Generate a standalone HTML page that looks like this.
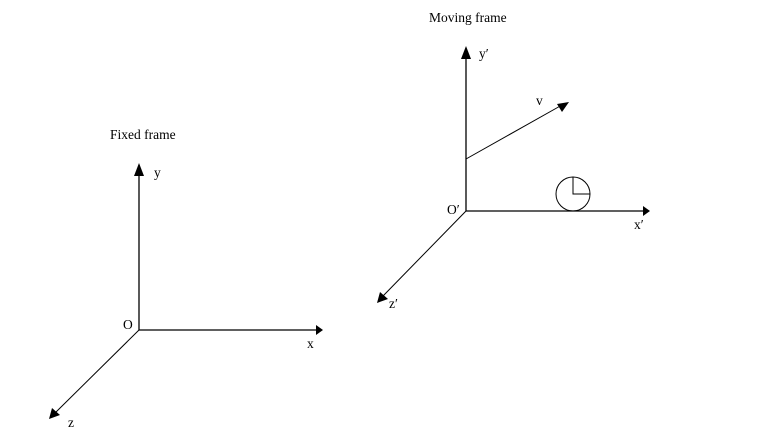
<!DOCTYPE html>
<html><head><style>
html,body{margin:0;padding:0;background:#fff;}
svg{display:block;}
text{font-family:"Liberation Serif",serif;font-size:13.5px;fill:#000;}
</style></head><body>
<svg width="775" height="434" viewBox="0 0 775 434">
<g stroke="#000" stroke-width="1.3" fill="none">
<line x1="139" y1="330" x2="139" y2="172"/>
<line x1="139" y1="330" x2="318" y2="330"/>
<line x1="139" y1="330" x2="55" y2="413" stroke-width="1"/>
<line x1="466" y1="211" x2="466" y2="55"/>
<line x1="466" y1="211" x2="644" y2="211"/>
<line x1="466" y1="211" x2="383" y2="296" stroke-width="1"/>
<line x1="466" y1="159" x2="562" y2="105" stroke-width="1"/>
<circle cx="573" cy="194" r="17" stroke-width="1"/>
<polyline points="573,177 573,194 590,194" stroke-width="1"/>
</g>
<g fill="#000">
<polygon points="139,163 134,176 144,176"/>
<polygon points="323,330 316,325 316,335"/>
<polygon points="49,419 52,408 60,415"/>
<polygon points="466,46 461,59 471,59"/>
<polygon points="650,211 643,206 643,216"/>
<polygon points="377,303 380,292 388,299"/>
<polygon points="569,102 557,104 562,112"/>
</g>
<text x="110" y="139">Fixed frame</text>
<text x="429" y="22">Moving frame</text>
<text x="154" y="177">y</text>
<text x="123" y="329">O</text>
<text x="307" y="348">x</text>
<text x="68" y="427">z</text>
<text x="479" y="58">y′</text>
<text x="536" y="105">v</text>
<text x="447" y="214">O′</text>
<text x="634" y="229">x′</text>
<text x="389" y="308">z′</text>
</svg>
</body></html>
